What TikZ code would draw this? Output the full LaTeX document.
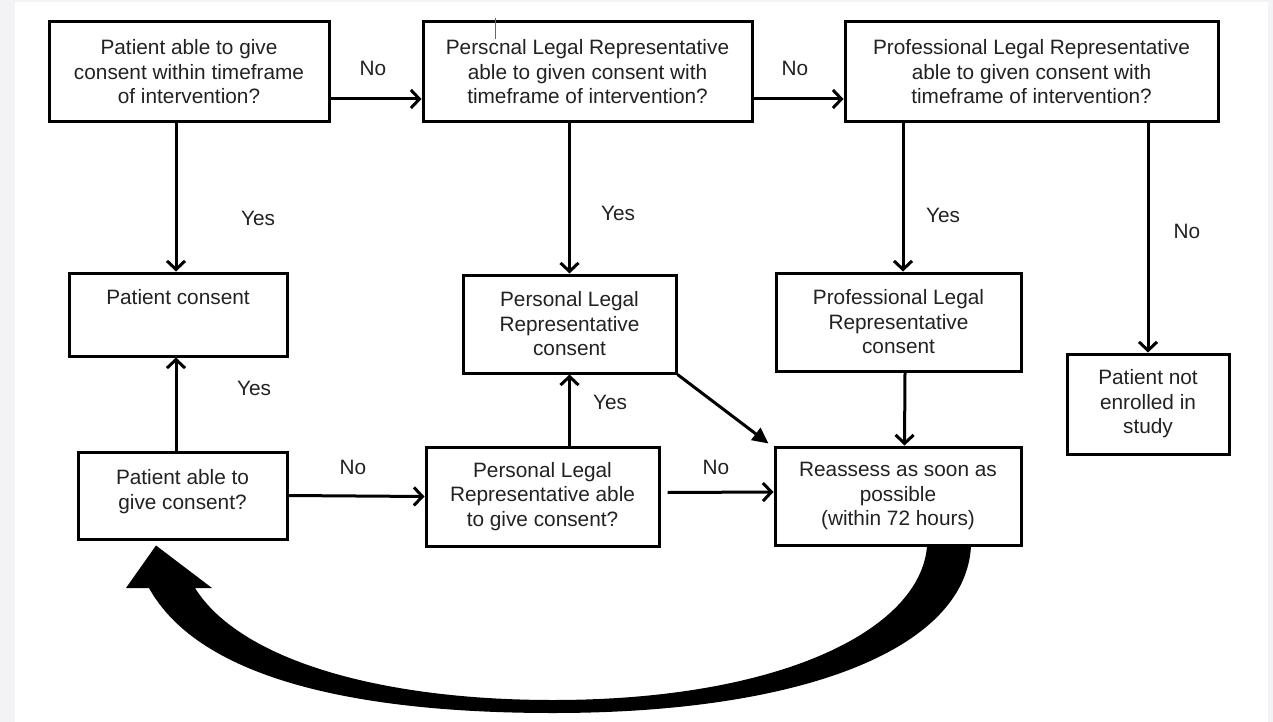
\documentclass[tikz,border=0pt]{standalone}
\usepackage{fontspec}
\setmainfont{Liberation Sans}
\usetikzlibrary{arrows.meta,calc}
\definecolor{bggray}{HTML}{F3F3F5}
\definecolor{txt}{HTML}{222222}
\begin{document}
\begin{tikzpicture}[x=1pt,y=-1pt,
  box/.style={draw=black,line width=3pt,fill=white,align=center,inner sep=0pt,text=txt,font=\fontsize{20.8}{24.5}\selectfont},
  arr/.style={line width=3pt,-{Straight Barb[length=8.5pt,width=18pt]}},
  tarr/.style={line width=3pt,-{Triangle[length=16pt,width=15pt]}},
  lbl/.style={text=txt,font=\fontsize{20.8}{24}\selectfont,inner sep=0pt}]
\useasboundingbox (0,0) rectangle (1273,722);
\fill[bggray] (0,0) rectangle (1273,722);
\fill[white] (15,2) rectangle (1268,722);

% top row
\node[box,minimum width=280pt,minimum height=100pt] (b1) at (189,72) {Patient able to give\\consent within timeframe\\of intervention?};
\node[box,minimum width=329pt,minimum height=100pt] (b2) at (587.5,72) {Perscnal Legal Representative\\able to given consent with\\timeframe of intervention?};
\node[box,minimum width=373pt,minimum height=100pt] (b3) at (1031.5,72) {Professional Legal Representative\\able to given consent with\\timeframe of intervention?};
% cursor mark
\draw[line width=0.8pt,black!60] (495,18) -- (495,39);

% middle row
\node[box,minimum width=218pt,minimum height=83pt] (pc) at (178,314.5) {Patient consent\\[4pt]\strut};
\node[box,minimum width=213pt,minimum height=98pt] (plrc) at (569.5,324) {Personal Legal\\Representative\\consent};
\node[box,minimum width=245pt,minimum height=98pt] (proc) at (898.5,322) {Professional Legal\\Representative\\consent};
\node[box,minimum width=162pt,minimum height=100pt] (pne) at (1148,404) {Patient not\\enrolled in\\study};

% bottom row
\node[box,minimum width=209pt,minimum height=87pt] (pa) at (182.5,495.5) {Patient able to\\give consent?\\[-12.5pt]};
\node[box,minimum width=233pt,minimum height=99pt] (plra) at (542.5,496.5) {Personal Legal\\Representative able\\to give consent?};
\node[box,minimum width=246pt,minimum height=98pt] (ra) at (898,496) {Reassess as soon as\\possible\\(within 72 hours)};

% connectors
\draw[arr] ([yshift=-27pt]b1.east) -- ([yshift=-27pt]b2.west);
\draw[arr] ([yshift=-27pt]b2.east) -- ([yshift=-27pt]b3.west);
\draw[arr] ([xshift=-2pt]b1.south -| pc.north) -- ([xshift=-2pt]pc.north);
\draw[arr] (b2.south -| plrc.north) -- (plrc.north);
\draw[arr] ([xshift=4.5pt]b3.south -| proc.north) -- ([xshift=4.5pt]proc.north);
\draw[arr] (b3.south -| pne.north) -- (pne.north);
\draw[arr] ([xshift=-2pt]pa.north -| pc.south) -- ([xshift=-2pt]pc.south);
\draw[arr] (pa.east) -- (plra.west);
\draw[arr] (plra.north -| plrc.south) -- (plrc.south);
\draw[arr] ([xshift=7pt,yshift=4pt]plra.east) -- ([yshift=4pt]ra.west);
\draw[tarr] (plrc.south east) -- ([xshift=-5pt,yshift=2pt]ra.north west);
\draw[arr] ([xshift=6.5pt]proc.south) -- ([xshift=6.5pt]ra.north);

% big curved return arrow
\fill[black] ($(ra.south)+(73,0)$) .. controls (965,650) and (800,713) .. (553,713)
  .. controls (360,713) and (200,680) .. (149,588) -- (126,588) -- ($(pa.south)+(-26.5,5)$)
  -- (212,588) -- (195,588) .. controls (240,660) and (380,700) .. (553,700)
  .. controls (780,700) and (920,630) .. ($(ra.south)+(29,0)$) -- cycle;

% labels
\node[lbl] (l1) at (373,68) {No};
\node[lbl] (l2) at (795,68) {No};
\node[lbl] (l3) at (258,218) {Yes};
\node[lbl] (l4) at (618,213) {Yes};
\node[lbl] (l5) at (943,215) {Yes};
\node[lbl] (l6) at (1187,231) {No};
\node[lbl] (l7) at (254,388) {Yes};
\node[lbl] (l8) at (610,402) {Yes};
\node[lbl] (l9) at (353,467) {No};
\node[lbl] (l10) at (716,467) {No};
\end{tikzpicture}
\end{document}
